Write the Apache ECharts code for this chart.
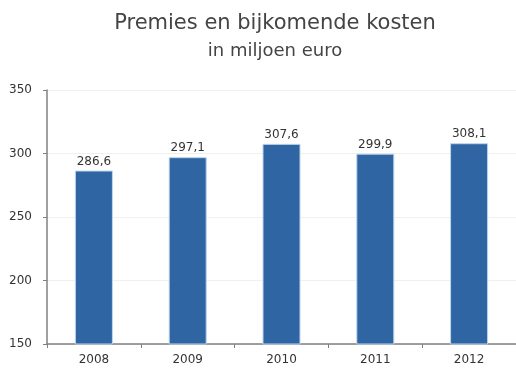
<!DOCTYPE html>
<html>
<head>
<meta charset="utf-8">
<script src="https://cdn.jsdelivr.net/npm/echarts@6/dist/echarts.min.js"></script>
<style>
  html, body { margin: 0; padding: 0; background: #fff; }
  #chart { width: 516px; height: 372px; }
</style>
</head>
<body>
<div id="chart"></div>
<script>
// Premies en bijkomende kosten, 2008-2012 (miljoen euro)
const years = ['2008', '2009', '2010', '2011', '2012'];
const premies = [286.6, 297.1, 307.6, 299.9, 308.1];
const yTicks = [150, 200, 250, 300, 350];

const fmt = v => v.toFixed(1).replace('.', ',');

const chart = echarts.init(document.getElementById('chart'));
chart.setOption({
  animation: false,
  backgroundColor: '#ffffff',
  title: {
    text: 'Premies en bijkomende kosten',
    subtext: 'in miljoen euro',
    left: 270,
    textAlign: 'center',
    top: 8,
    itemGap: 8,
    textStyle: { fontFamily: 'DejaVu Sans', fontSize: 21, fontWeight: 'normal', color: '#444' },
    subtextStyle: { fontFamily: 'DejaVu Sans', fontSize: 18, color: '#444' }
  },
  grid: { left: 47, right: 0, top: 90, bottom: 28 },
  xAxis: {
    type: 'category',
    data: years,
    axisLine: { lineStyle: { color: '#808080', width: 1.5 } },
    axisTick: { show: true, length: 4, lineStyle: { color: '#808080' } },
    axisLabel: { fontFamily: 'DejaVu Sans', fontSize: 12, color: '#333', margin: 10 }
  },
  yAxis: {
    type: 'value',
    min: yTicks[0],
    max: yTicks[yTicks.length - 1],
    interval: 50,
    axisLine: { show: true, lineStyle: { color: '#808080', width: 1.5 } },
    axisTick: { show: true, length: 4, lineStyle: { color: '#808080' } },
    axisLabel: { fontFamily: 'DejaVu Sans', fontSize: 12, color: '#333', margin: 15 },
    splitLine: { lineStyle: { color: '#f2f0ea' } }
  },
  series: [{
    type: 'bar',
    data: premies,
    barWidth: 38,
    itemStyle: { color: '#2f65a2', borderColor: '#bcd6ee', borderWidth: 1 },
    label: {
      show: true,
      position: 'top',
      distance: 3,
      formatter: p => fmt(p.value),
      fontFamily: 'DejaVu Sans',
      fontSize: 12,
      color: '#333'
    }
  }]
});
</script>
</body>
</html>
